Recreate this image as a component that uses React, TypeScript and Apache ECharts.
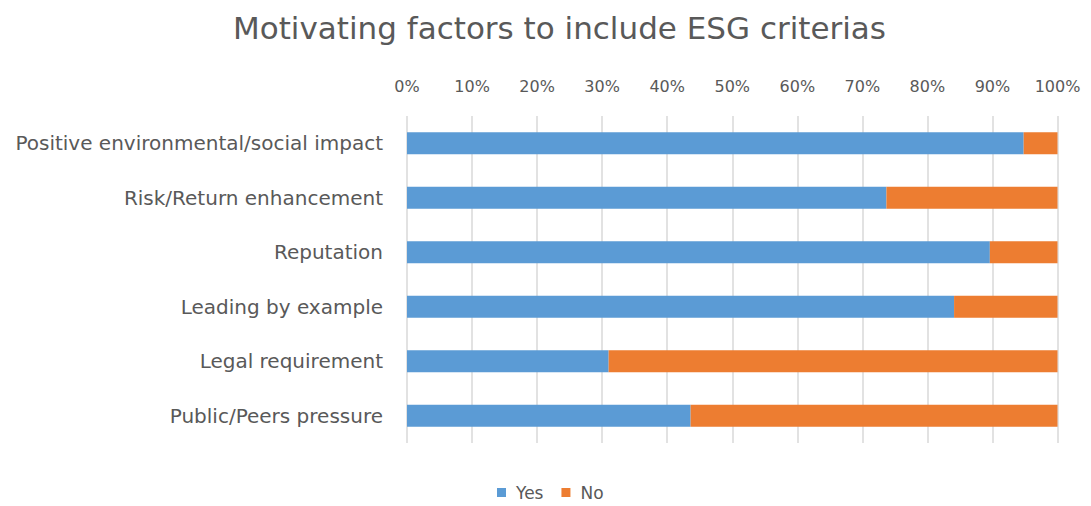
import React, { useEffect, useRef } from "react";
import * as echarts from "echarts";

const categories = [
  "Positive environmental/social impact",
  "Risk/Return enhancement",
  "Reputation",
  "Leading by example",
  "Legal requirement",
  "Public/Peers pressure",
];
const yesValues = [94.8, 73.7, 89.6, 84.1, 31.0, 43.6];
const noValues = [5.2, 26.3, 10.4, 15.9, 69.0, 56.4];

const FONT = "'DejaVu Sans', sans-serif";

export default function App() {
  const ref = useRef<HTMLDivElement>(null);
  useEffect(() => {
    if (!ref.current) return;
    const chart = echarts.init(ref.current, undefined, { renderer: "svg" });
    chart.setOption({
      animation: false,
      backgroundColor: "#ffffff",
      title: {
        text: "Motivating factors to include ESG criterias",
        left: 228,
        top: 7,
        textStyle: { fontFamily: FONT, fontSize: 31, fontWeight: "normal", color: "#595959" },
      },
      legend: {
        top: 484,
        left: 497,
        icon: "rect",
        itemWidth: 9,
        itemHeight: 9,
        itemGap: 18,
        padding: 0,
        textStyle: { fontFamily: FONT, fontSize: 17, color: "#595959", padding: [0, 0, 0, 5] },
        data: ["Yes", "No"],
      },
      grid: { left: 407, right: 33.5, top: 116, bottom: 63, containLabel: false },
      xAxis: {
        type: "value",
        position: "top",
        min: 0,
        max: 100,
        interval: 10,
        axisLine: { show: false },
        axisTick: { show: false },
        axisLabel: {
          formatter: "{value}%",
          fontFamily: FONT,
          fontSize: 16,
          color: "#595959",
          margin: 22,
        },
        splitLine: { show: true, lineStyle: { color: "#d9d9d9", width: 1.5 } },
      },
      yAxis: {
        type: "category",
        inverse: true,
        data: categories,
        axisLine: { show: false },
        axisTick: { show: false },
        axisLabel: { fontFamily: FONT, fontSize: 20, color: "#595959", margin: 24 },
      },
      series: [
        {
          name: "Yes",
          type: "bar",
          stack: "total",
          data: yesValues,
          barWidth: 22,
          itemStyle: { color: "#5B9BD5" },
        },
        {
          name: "No",
          type: "bar",
          stack: "total",
          data: noValues,
          barWidth: 22,
          itemStyle: { color: "#ED7D31" },
        },
      ],
    });
    return () => chart.dispose();
  }, []);
  return (
    <div
      ref={ref}
      style={{ position: "fixed", left: 0, top: 0, width: 1091, height: 506 }}
    />
  );
}
